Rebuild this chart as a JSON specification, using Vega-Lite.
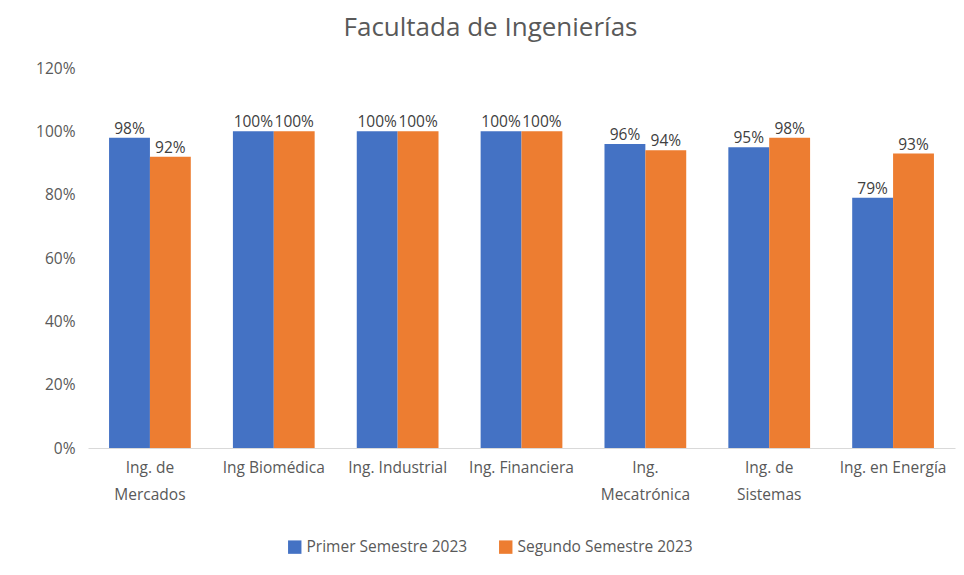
{
  "$schema": "https://vega.github.io/schema/vega-lite/v6.json",
  "width": 867,
  "height": 380,
  "autosize": {"type": "none"},
  "padding": {"left": 88, "top": 68, "right": 9, "bottom": 127},
  "background": "white",
  "title": {
    "text": "Facultada de Ingenierías",
    "font": "Open Sans",
    "fontSize": 26,
    "fontWeight": "normal",
    "color": "#595959",
    "anchor": "middle",
    "dx": -31,
    "offset": 20
  },
  "config": {
    "view": {"stroke": null},
    "font": "Open Sans"
  },
  "data": {
    "values": [
      {"programa": "Ing. de Mercados", "semestre": "Primer Semestre 2023", "valor": 0.98},
      {"programa": "Ing. de Mercados", "semestre": "Segundo Semestre 2023", "valor": 0.92},
      {"programa": "Ing Biomédica", "semestre": "Primer Semestre 2023", "valor": 1.0},
      {"programa": "Ing Biomédica", "semestre": "Segundo Semestre 2023", "valor": 1.0},
      {"programa": "Ing. Industrial", "semestre": "Primer Semestre 2023", "valor": 1.0},
      {"programa": "Ing. Industrial", "semestre": "Segundo Semestre 2023", "valor": 1.0},
      {"programa": "Ing. Financiera", "semestre": "Primer Semestre 2023", "valor": 1.0},
      {"programa": "Ing. Financiera", "semestre": "Segundo Semestre 2023", "valor": 1.0},
      {"programa": "Ing. Mecatrónica", "semestre": "Primer Semestre 2023", "valor": 0.96},
      {"programa": "Ing. Mecatrónica", "semestre": "Segundo Semestre 2023", "valor": 0.94},
      {"programa": "Ing. de Sistemas", "semestre": "Primer Semestre 2023", "valor": 0.95},
      {"programa": "Ing. de Sistemas", "semestre": "Segundo Semestre 2023", "valor": 0.98},
      {"programa": "Ing. en Energía", "semestre": "Primer Semestre 2023", "valor": 0.79},
      {"programa": "Ing. en Energía", "semestre": "Segundo Semestre 2023", "valor": 0.93}
    ]
  },
  "encoding": {
    "x": {
      "field": "programa",
      "type": "nominal",
      "sort": null,
      "scale": {"paddingInner": 0.34, "paddingOuter": 0.17},
      "axis": {
        "title": null,
        "labelAngle": 0,
        "labelFont": "Open Sans",
        "labelFontSize": 15.5,
        "labelColor": "#595959",
        "labelPadding": 12,
        "labelLineHeight": 27,
        "ticks": false,
        "domainColor": "#D9D9D9",
        "labelExpr": "datum.label == 'Ing. de Mercados' ? ['Ing. de', 'Mercados'] : datum.label == 'Ing. Mecatrónica' ? ['Ing.', 'Mecatrónica'] : datum.label == 'Ing. de Sistemas' ? ['Ing. de', 'Sistemas'] : datum.label"
      }
    },
    "xOffset": {"field": "semestre", "type": "nominal", "scale": {"paddingInner": 0}},
    "y": {
      "field": "valor",
      "type": "quantitative",
      "scale": {"domain": [0, 1.2], "nice": false},
      "axis": {
        "title": null,
        "format": ".0%",
        "values": [0, 0.2, 0.4, 0.6, 0.8, 1.0, 1.2],
        "grid": false,
        "domain": false,
        "ticks": false,
        "labelFont": "Open Sans",
        "labelFontSize": 15.5,
        "labelColor": "#595959",
        "labelPadding": 13
      }
    }
  },
  "layer": [
    {
      "mark": {"type": "bar"},
      "encoding": {
        "color": {
          "field": "semestre",
          "type": "nominal",
          "scale": {"range": ["#4472C4", "#ED7D31"]},
          "legend": {
            "title": null,
            "orient": "none",
            "direction": "horizontal",
            "legendX": 199,
            "legendY": 471,
            "symbolType": "square",
            "symbolSize": 180,
            "symbolStrokeWidth": 0,
            "labelFont": "Open Sans",
            "labelFontSize": 15.5,
            "labelColor": "#595959",
            "labelLimit": 400,
            "columnPadding": 30,
            "labelOffset": 4
          }
        }
      }
    },
    {
      "mark": {"type": "text", "baseline": "bottom", "dy": -1, "font": "Open Sans", "fontSize": 15.5, "color": "#404040"},
      "encoding": {
        "text": {"field": "valor", "type": "quantitative", "format": ".0%"}
      }
    }
  ]
}
